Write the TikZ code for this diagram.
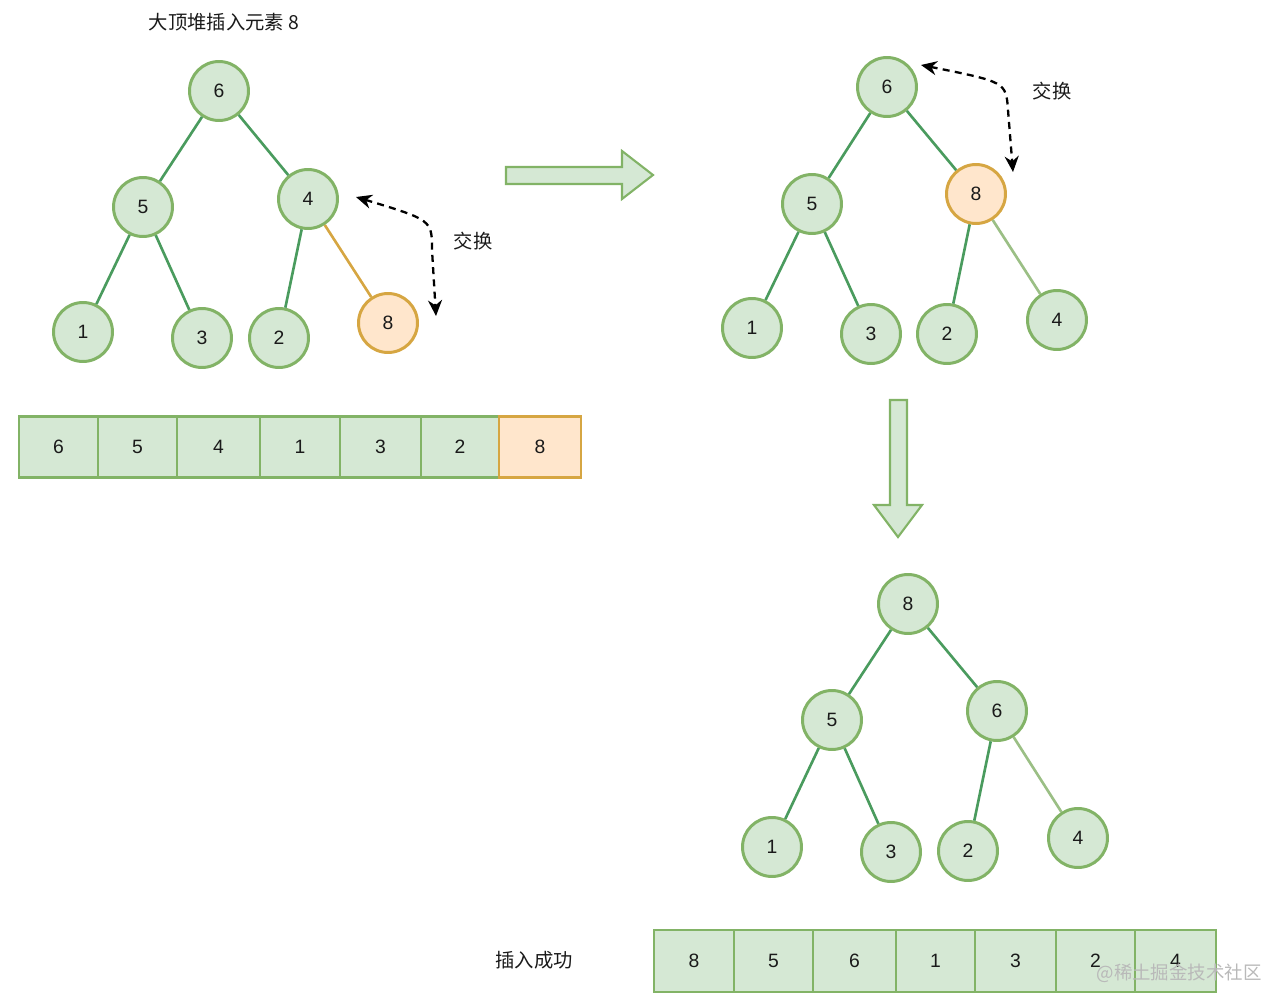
\documentclass[tikz,border=0pt]{standalone}
\usepackage{fontspec}
\setmainfont{Liberation Sans}
\newfontfamily\cjk{Noto Sans CJK SC}
\usetikzlibrary{arrows.meta, calc}

\definecolor{nodefill}{HTML}{D5E8D4}
\definecolor{nodeline}{HTML}{82B366}
\definecolor{swapfill}{HTML}{FFE6CC}
\definecolor{swapline}{HTML}{D6A642}
\definecolor{edgegreen}{HTML}{4A9B5E}
\definecolor{edgelight}{HTML}{9BBF85}
\definecolor{inktext}{HTML}{1A1A1A}

\tikzset{
  heapnode/.style={circle, draw=nodeline, fill=nodefill, line width=1.7pt,
    minimum size=1.18cm, inner sep=0pt, text=inktext, font=\fontsize{11}{13}\selectfont},
  swapnode/.style={heapnode, draw=swapline, fill=swapfill},
  treeedge/.style={edgegreen, line width=1.5pt},
  lightedge/.style={edgelight, line width=1.5pt},
  swapedge/.style={swapline, line width=1.5pt},
  cellbox/.style={rectangle, draw=nodeline, fill=nodefill, line width=1.3pt,
    inner sep=0pt, text=inktext, font=\fontsize{11}{13}\selectfont},
  swapcell/.style={cellbox, draw=swapline, fill=swapfill},
  bigarrow/.style={draw=nodeline, fill=nodefill, line width=1.2pt, line join=miter},
  swaparrow/.style={black, line width=1.3pt, dash pattern=on 4pt off 3pt,
    {Stealth[length=9pt,width=8pt]}-{Stealth[length=9pt,width=8pt]}},
  label/.style={text=inktext, font=\cjk\fontsize{11}{13}\selectfont}
}

\begin{document}
\begin{tikzpicture}[x=0.02cm, y=-0.02cm]
  \useasboundingbox (0,0) rectangle (1262,1004);

  % Title
  \node[label] (title) at (224,22) {大顶堆插入元素 8};

  % Heap 1: 8 appended as last leaf
  \node[heapnode] (p6) at (219,91) {6};
  \node[heapnode] (p5) at (143,207) {5};
  \node[heapnode] (p4) at (308,199) {4};
  \node[heapnode] (p1) at (83,332) {1};
  \node[heapnode] (p3) at (202,338) {3};
  \node[heapnode] (p2) at (279,338) {2};
  \node[swapnode] (p8) at (388,323) {8};
  \draw[treeedge] (p6) -- (p5);
  \draw[treeedge] (p6) -- (p4);
  \draw[treeedge] (p5) -- (p1);
  \draw[treeedge] (p5) -- (p3);
  \draw[treeedge] (p4) -- (p2);
  \draw[swapedge] (p4) -- (p8);

  % Swap 4 <-> 8
  \coordinate (sa) at (356,197);
  \coordinate (sb) at (436,316);
  \draw[swaparrow] (sa) .. controls (432,220) .. (432,250) -- (sb);
  \node[label] (swapone) at (473,241) {交换};

  % Array 1
  \foreach \val/\xl/\xr/\sty [count=\i] in
      {6/19/98/cellbox, 5/98/177/cellbox, 4/177/260/cellbox, 1/260/340/cellbox,
       3/340/421/cellbox, 2/421/499/cellbox, 8/499/581/swapcell}
    \node[\sty, minimum width={(\xr-\xl)*0.02cm}, minimum height=1.22cm]
      (a\i) at ({(\xl+\xr)/2},447) {\val};

  % Arrow right
  \draw[bigarrow] (506,167) -- (622,167) -- (622,151) -- (653,175)
    -- (622,199) -- (622,184) -- (506,184) -- cycle;

  % Heap 2: after first swap
  \node[heapnode] (q6) at (887,87) {6};
  \node[heapnode] (q5) at (812,204) {5};
  \node[swapnode] (q8) at (976,194) {8};
  \node[heapnode] (q1) at (752,328) {1};
  \node[heapnode] (q3) at (871,334) {3};
  \node[heapnode] (q2) at (947,334) {2};
  \node[heapnode] (q4) at (1057,320) {4};
  \draw[treeedge] (q6) -- (q5);
  \draw[treeedge] (q6) -- (q8);
  \draw[treeedge] (q5) -- (q1);
  \draw[treeedge] (q5) -- (q3);
  \draw[treeedge] (q8) -- (q2);
  \draw[lightedge] (q8) -- (q4);

  % Swap 6 <-> 8
  \coordinate (sc) at (921,65);
  \coordinate (sd) at (1013,172);
  \draw[swaparrow] (sc) .. controls (1006,82) .. (1008,110) -- (sd);
  \node[label] (swaptwo) at (1052,91) {交换};

  % Arrow down
  \draw[bigarrow] (890,400) -- (907,400) -- (907,505) -- (922,505)
    -- (898,537) -- (874,505) -- (890,505) -- cycle;

  % Heap 3: final
  \node[heapnode] (r8) at (908,604) {8};
  \node[heapnode] (r5) at (832,720) {5};
  \node[heapnode] (r6) at (997,711) {6};
  \node[heapnode] (r1) at (772,847) {1};
  \node[heapnode] (r3) at (891,852) {3};
  \node[heapnode] (r2) at (968,851) {2};
  \node[heapnode] (r4) at (1078,838) {4};
  \draw[treeedge] (r8) -- (r5);
  \draw[treeedge] (r8) -- (r6);
  \draw[treeedge] (r5) -- (r1);
  \draw[treeedge] (r5) -- (r3);
  \draw[treeedge] (r6) -- (r2);
  \draw[lightedge] (r6) -- (r4);

  % Array 2
  \node[label] (done) at (534,960) {插入成功};
  \foreach \val/\xl/\xr [count=\i] in
      {8/654/734, 5/734/813, 6/813/896, 1/896/975, 3/975/1056, 2/1056/1135, 4/1135/1216}
    \node[cellbox, minimum width={(\xr-\xl)*0.02cm}, minimum height=1.24cm]
      (b\i) at ({(\xl+\xr)/2},961) {\val};

  % Watermark
  \node[anchor=east, text=gray!55, font=\cjk\fontsize{10.5}{12}\selectfont, inner sep=0pt]
    (mark) at (1262,973) {@稀土掘金技术社区};
\end{tikzpicture}
\end{document}
